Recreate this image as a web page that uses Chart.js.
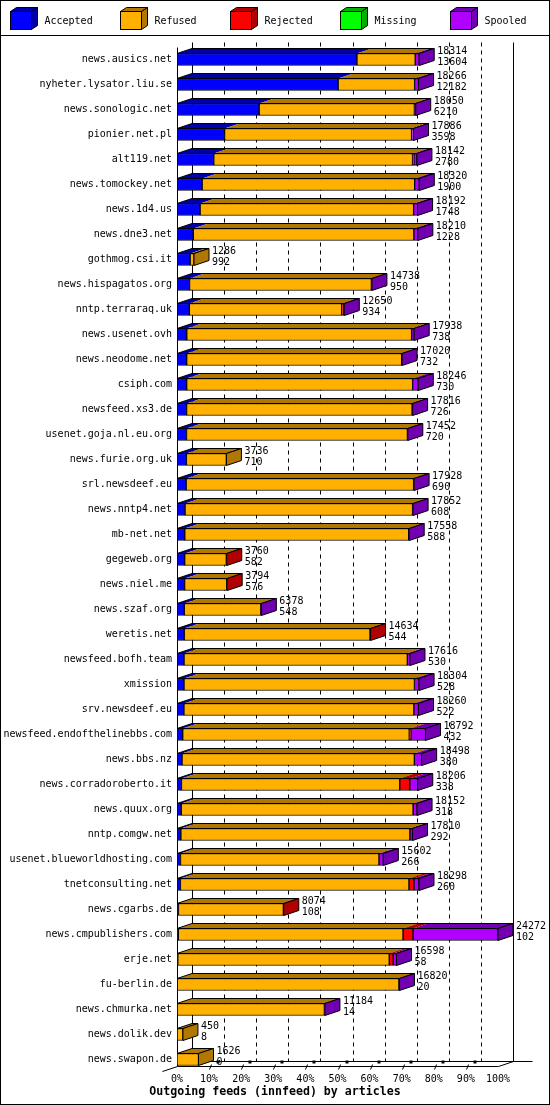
<!DOCTYPE html>
<html>
<head>
<meta charset="utf-8">
<script src="https://cdn.jsdelivr.net/npm/chart.js@4/dist/chart.umd.min.js"></script>
<style>
  body { margin: 0; background: #fff; }
  #wrap { width: 550px; height: 1105px; }
</style>
</head>
<body>
<div id="wrap"><canvas id="feedChart"></canvas></div>
<script>
var hosts = [
  'news.ausics.net', 'nyheter.lysator.liu.se', 'news.sonologic.net', 'pionier.net.pl',
  'alt119.net', 'news.tomockey.net', 'news.1d4.us', 'news.dne3.net', 'gothmog.csi.it',
  'news.hispagatos.org', 'nntp.terraraq.uk', 'news.usenet.ovh', 'news.neodome.net',
  'csiph.com', 'newsfeed.xs3.de', 'usenet.goja.nl.eu.org', 'news.furie.org.uk',
  'srl.newsdeef.eu', 'news.nntp4.net', 'mb-net.net', 'gegeweb.org', 'news.niel.me',
  'news.szaf.org', 'weretis.net', 'newsfeed.bofh.team', 'xmission', 'srv.newsdeef.eu',
  'newsfeed.endofthelinebbs.com', 'news.bbs.nz', 'news.corradoroberto.it', 'news.quux.org',
  'nntp.comgw.net', 'usenet.blueworldhosting.com', 'tnetconsulting.net', 'news.cgarbs.de',
  'news.cmpublishers.com', 'erje.net', 'fu-berlin.de', 'news.chmurka.net', 'news.dolik.dev',
  'news.swapon.de'
];
var totals = [18314, 18266, 18050, 17886, 18142, 18320, 18192, 18210, 1286, 14738, 12650,
  17938, 17020, 18246, 17816, 17452, 3736, 17928, 17852, 17558, 3760, 3794, 6378, 14634,
  17616, 18304, 18260, 18792, 18498, 18206, 18152, 17810, 15602, 18298, 8074, 24272, 16598,
  16820, 11184, 450, 1626];
var accepted = [13604, 12182, 6210, 3598, 2780, 1900, 1748, 1228, 992, 950, 934, 738, 732,
  730, 726, 720, 710, 690, 608, 588, 582, 576, 548, 544, 530, 528, 522, 432, 380, 338, 318,
  292, 266, 260, 108, 102, 58, 20, 14, 8, 0];
var refused = [4410, 5784, 11740, 14138, 15032, 16070, 16144, 16682, 294, 13748, 11526, 17000,
  16258, 17086, 17050, 16702, 3026, 17198, 17204, 16930, 3148, 3188, 5790, 14050, 16886, 17426,
  17388, 17130, 17568, 16507, 17534, 17318, 15006, 17278, 7936, 16988, 15990, 16760, 11130,
  442, 1626];
var rejected = [0, 0, 0, 0, 100, 0, 0, 0, 0, 0, 150, 0, 0, 0, 0, 0, 0, 0, 0, 0, 30, 30, 0, 40,
  0, 0, 0, 120, 0, 756, 0, 0, 0, 380, 30, 756, 300, 0, 0, 0, 0];
var missing = [0, 0, 0, 0, 0, 0, 0, 0, 0, 0, 0, 0, 0, 0, 0, 0, 0, 0, 0, 0, 0, 0, 0, 0, 0, 0,
  0, 0, 0, 0, 0, 0, 0, 0, 0, 0, 0, 0, 0, 0, 0];
var spooled = [300, 300, 100, 150, 230, 350, 300, 300, 0, 40, 40, 200, 30, 430, 40, 30, 0, 40,
  40, 40, 0, 0, 40, 0, 200, 350, 350, 1110, 550, 605, 300, 200, 330, 380, 0, 6426, 250, 40,
  40, 0, 0];
var xTicks = [0, 10, 20, 30, 40, 50, 60, 70, 80, 90, 100];
var seriesNames = ['Accepted', 'Refused', 'Rejected', 'Missing', 'Spooled'];
var frontColors = ['#0000ff', '#ffb000', '#ff0000', '#00ff00', '#b000ff'];
var darkColors = ['#0000a8', '#b07800', '#b00000', '#00b000', '#7000b0'];
var xTitle = 'Outgoing feeds (innfeed) by articles';

var maxTotal = Math.max.apply(null, totals);
var pct = function(arr){
  return arr.map(function(v){ return v / maxTotal * 100; });
};

var DX = 15, DY = 5;
var MONO = "'DejaVu Sans Mono', monospace";

var poly = function(ctx, pts, fill){
  ctx.beginPath();
  ctx.moveTo(pts[0][0], pts[0][1]);
  for(var i = 1; i < pts.length; i++){
    ctx.lineTo(pts[i][0], pts[i][1]);
  }
  ctx.closePath();
  if(fill){
    ctx.fillStyle = fill;
    ctx.fill();
  }
  ctx.stroke();
};

var backdrop = {
  id: 'backdrop',
  beforeDatasetsDraw: function(chart){
    var ctx = chart.ctx;
    var xs = chart.scales.x;
    var area = chart.chartArea;
    var frontBase = Math.round(area.bottom - 6.5) + 0.5;
    var backBase = frontBase - DY;
    var topY = Math.round(area.top - 5.5) + 0.5;
    ctx.save();
    ctx.strokeStyle = '#000';
    ctx.lineWidth = 1;
    xTicks.forEach(function(v){
      var x = Math.round(xs.getPixelForValue(v) + DX) + 0.5;
      ctx.setLineDash(v === 0 || v === 100 ? [] : [4, 4]);
      ctx.beginPath();
      ctx.moveTo(x, topY);
      ctx.lineTo(x, backBase);
      ctx.stroke();
    });
    ctx.setLineDash([]);
    // front left wall edge
    var x0 = Math.round(xs.getPixelForValue(0)) + 0.5;
    var x100 = Math.round(xs.getPixelForValue(100)) + 0.5;
    ctx.beginPath();
    ctx.moveTo(x0, topY + DY);
    ctx.lineTo(x0, frontBase);
    ctx.stroke();
    // floor
    ctx.beginPath();
    ctx.moveTo(x0 - DX, frontBase + DY);
    ctx.lineTo(x0, frontBase);
    ctx.lineTo(x100, frontBase);
    ctx.lineTo(x100 + DX, backBase);
    ctx.stroke();
    ctx.beginPath();
    ctx.moveTo(x0 + DX, backBase);
    ctx.lineTo(x100 + DX + 19, backBase);
    ctx.stroke();
    // little floor ticks
    xTicks.forEach(function(v){
      if(v === 0 || v === 100) return;
      var x = Math.round(xs.getPixelForValue(v)) + 0.5;
      ctx.beginPath();
      ctx.moveTo(x, frontBase + 3);
      ctx.lineTo(x + 2, frontBase - 2);
      ctx.stroke();
      ctx.fillStyle = '#000';
      ctx.fillRect(x + 7, backBase - 1, 3, 3);
    });
    ctx.restore();
  },
  afterDatasetsDraw: function(chart){
    var ctx = chart.ctx;
    ctx.save();
    ctx.strokeStyle = '#000';
    ctx.lineWidth = 1;
    for(var j = 0; j < hosts.length; j++){
      var segs = [];
      for(var i = 0; i < seriesNames.length; i++){
        var el = chart.getDatasetMeta(i).data[j];
        var p = el.getProps(['x', 'y', 'base', 'height'], true);
        segs.push({l: Math.min(p.x, p.base), r: Math.max(p.x, p.base), y: p.y, h: p.height, i: i});
      }
      var top = segs[0].y - segs[0].h / 2;
      var bot = segs[0].y + segs[0].h / 2;
      var L = segs[0].l, R = L, last = null;
      segs.forEach(function(s){
        if(s.r - s.l > 0.01){
          ctx.beginPath();
          ctx.moveTo(s.l, top);
          ctx.lineTo(s.l + DX, top - DY);
          ctx.lineTo(s.r + DX, top - DY);
          ctx.lineTo(s.r, top);
          ctx.closePath();
          ctx.fillStyle = darkColors[s.i];
          ctx.fill();
          R = Math.max(R, s.r);
          last = s;
        }
      });
      poly(ctx, [[L, top], [L + DX, top - DY], [R + DX, top - DY], [R, top]], null);
      if(last){
        poly(ctx, [[R, top], [R + DX, top - DY], [R + DX, bot - DY], [R, bot]], darkColors[last.i]);
      }
      ctx.fillStyle = '#000';
      ctx.font = '10px ' + MONO;
      ctx.textAlign = 'left';
      ctx.textBaseline = 'middle';
      ctx.fillText(String(totals[j]), R + 18, segs[0].y - 8.5);
      ctx.fillText(String(accepted[j]), R + 18, segs[0].y + 2.5);
    }
    ctx.restore();
  },
  afterDraw: function(chart){
    var ctx = chart.ctx;
    var xs = chart.scales.x;
    var area = chart.chartArea;
    ctx.save();
    ctx.fillStyle = '#000';
    ctx.strokeStyle = '#000';
    ctx.lineWidth = 1;
    ctx.font = '10px ' + MONO;
    ctx.textAlign = 'center';
    ctx.textBaseline = 'middle';
    xTicks.forEach(function(v){
      ctx.fillText(v + '%', xs.getPixelForValue(v), area.bottom + 7);
    });
    ctx.font = 'bold 11.6px ' + MONO;
    ctx.fillText(xTitle, 275, area.bottom + 19.5);
    // frame and legend
    ctx.strokeRect(0.5, 0.5, chart.width - 1, chart.height - 1);
    ctx.beginPath();
    ctx.moveTo(0, 35.5);
    ctx.lineTo(chart.width, 35.5);
    ctx.stroke();
    ctx.font = '10px ' + MONO;
    ctx.textAlign = 'left';
    seriesNames.forEach(function(name, i){
      var bx = 10.5 + 110 * i, by = 11.5, w = 21, h = 18, dx = 6, dy = 4;
      poly(ctx, [[bx, by], [bx + dx, by - dy], [bx + w + dx, by - dy], [bx + w, by]], darkColors[i]);
      poly(ctx, [[bx + w, by], [bx + w + dx, by - dy], [bx + w + dx, by + h - dy], [bx + w, by + h]], darkColors[i]);
      ctx.fillStyle = frontColors[i];
      ctx.fillRect(bx, by, w, h);
      ctx.strokeRect(bx, by, w, h);
      ctx.fillStyle = '#000';
      ctx.fillText(name, bx + 34, 21);
    });
    ctx.restore();
  }
};

var seriesData = [pct(accepted), pct(refused), pct(rejected), pct(missing), pct(spooled)];

var feedChart = new Chart(document.getElementById('feedChart').getContext('2d'), {
  type: 'bar',
  data: {
    labels: hosts,
    datasets: seriesNames.map(function(name, i){
      return {
        label: name,
        data: seriesData[i],
        backgroundColor: frontColors[i],
        borderColor: '#000',
        borderWidth: 1,
        borderSkipped: false,
        barThickness: 12
      };
    })
  },
  options: {
    indexAxis: 'y',
    responsive: true,
    maintainAspectRatio: false,
    animation: false,
    devicePixelRatio: 1,
    layout: {padding: {top: 47, bottom: 33, right: 52, left: 0}},
    plugins: {legend: {display: false}, tooltip: {enabled: false}},
    scales: {
      x: {stacked: true, min: 0, max: 100, display: false},
      y: {
        stacked: true,
        grid: {display: false, drawTicks: false},
        border: {display: false},
        ticks: {autoSkip: false, color: '#000', padding: 5, font: {family: MONO, size: 10}},
        afterFit: function(scale){ scale.width = 177; }
      }
    }
  },
  plugins: [backdrop]
});
</script>
</body>
</html>
